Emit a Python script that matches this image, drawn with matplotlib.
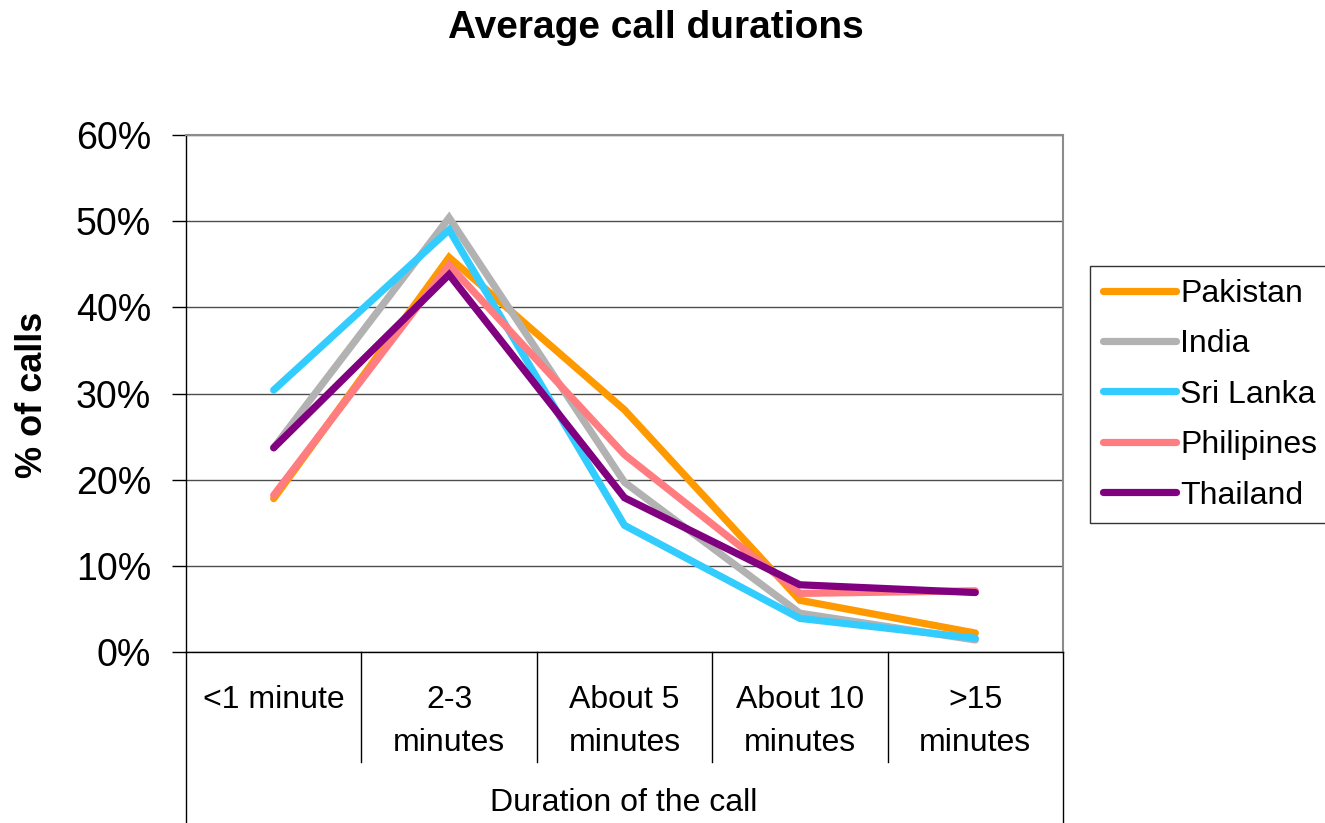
import matplotlib.pyplot as plt
from matplotlib.ticker import PercentFormatter

plt.rcParams['font.family'] = ['Liberation Sans', 'DejaVu Sans']

# Data (percent of calls)
categories = ["<1 minute", "2-3\nminutes", "About 5\nminutes", "About 10\nminutes", ">15\nminutes"]
pakistan = [17.8, 45.8, 28.1, 6.0, 2.2]
india = [23.7, 50.4, 19.7, 4.5, 1.4]
sri_lanka = [30.4, 49.0, 14.7, 3.9, 1.6]
philipines = [18.2, 44.9, 22.9, 6.8, 7.1]
thailand = [23.7, 43.8, 17.9, 7.8, 6.9]

series = [
    ("Pakistan", pakistan, "#FF9900"),
    ("India", india, "#B2B2B2"),
    ("Sri Lanka", sri_lanka, "#33CCFF"),
    ("Philipines", philipines, "#FF7C80"),
    ("Thailand", thailand, "#800080"),
]

W, H = 1325, 823
fig = plt.figure(figsize=(W / 100, H / 100), dpi=100)
left, right, top, bottom = 186, 1063, 135, 652
ax = fig.add_axes([left / W, 1 - bottom / H, (right - left) / W, (bottom - top) / H])

x = list(range(len(categories)))
for name, vals, col in series:
    ax.plot(x, vals, color=col, lw=5.2, label=name, solid_capstyle='round',
            solid_joinstyle='miter')

ax.set_xlim(-0.5, len(categories) - 0.5)
ax.set_ylim(0, 60)
ax.set_yticks(range(0, 61, 10))
ax.yaxis.set_major_formatter(PercentFormatter(decimals=0))
ax.tick_params(axis='y', labelsize=27, length=10, width=1, pad=15, direction='out')
ax.yaxis.grid(True, color='#4d4d4d', lw=1)
ax.set_axisbelow(True)

ax.set_xticks(x)
ax.set_xticklabels(categories, fontsize=23, linespacing=1.55, va='top')
ax.tick_params(axis='x', length=0, pad=24)

for s in ['top', 'right']:
    ax.spines[s].set_color('#8c8c8c')
    ax.spines[s].set_linewidth(1.5)
for s in ['left', 'bottom']:
    ax.spines[s].set_color('black')
    ax.spines[s].set_linewidth(1)

# category separators below the axis
tr = ax.get_xaxis_transform()
sep_depth = -(762 - bottom) / (bottom - top)
outer_depth = -(H - bottom) / (bottom - top)
for xi in [i + 0.5 for i in range(len(categories) - 1)]:
    ax.plot([xi, xi], [0, sep_depth], color='black', lw=1, transform=tr, clip_on=False)
for xi in [-0.5, len(categories) - 0.5]:
    ax.plot([xi, xi], [0, outer_depth], color='black', lw=1, transform=tr, clip_on=False)

fig.text(624 / W, 1 - 803 / H, "Duration of the call", fontsize=23, ha='center', va='center')
fig.text(33 / W, 1 - 395 / H, "% of calls", fontsize=26, fontweight='bold',
         rotation=90, ha='center', va='center')
fig.text(656 / W, 1 - 28 / H, "Average call durations", fontsize=28, fontweight='bold',
         ha='center', va='center')

leg = ax.legend(loc='upper left', bbox_to_anchor=(1090 / W, 1 - 266 / H),
                bbox_transform=fig.transFigure, borderaxespad=0, fontsize=23,
                frameon=True, fancybox=False, edgecolor='black', handlelength=2.3,
                handletextpad=0.12, labelspacing=0.64, borderpad=0.4)
leg.get_frame().set_linewidth(1)

fig.savefig("out.png", dpi=100, facecolor='white')
